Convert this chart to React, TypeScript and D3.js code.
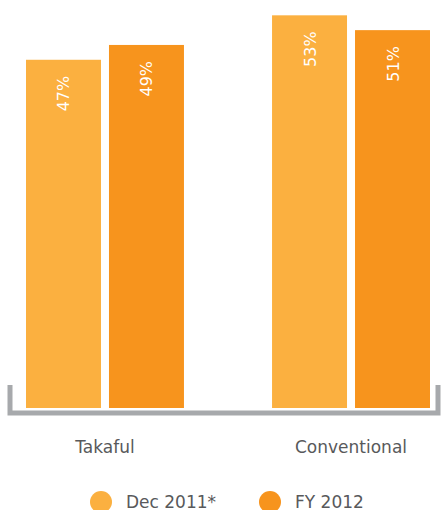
import React from "react";
import * as d3 from "d3";

const categories = ["Takaful", "Conventional"];
const seriesNames = ["Dec 2011*", "FY 2012"];
const dec2011 = [47, 53];
const fy2012 = [49, 51];
const seriesColors = ["#fbb040", "#f7941d"];

const W = 445;
const H = 510;
const FONT = "'DejaVu Sans', sans-serif";

export default function App() {
  const values = [dec2011, fy2012];
  const x0 = d3.scaleBand<string>().domain(categories).range([26, 430]).paddingInner(0.358).paddingOuter(0);
  const x1 = d3.scaleBand<string>().domain(seriesNames).range([0, x0.bandwidth()]).paddingInner(0.0964).paddingOuter(0);
  const y = d3.scaleLinear().domain([0, 55]).range([408, 0.5]);

  const bracketPath = d3.path();
  bracketPath.moveTo(10, 385);
  bracketPath.lineTo(10, 413);
  bracketPath.lineTo(438, 413);
  bracketPath.lineTo(438, 385);

  return (
    <svg width={W} height={H} style={{ position: "absolute", left: 0, top: 0 }} fontFamily={FONT}>
      <rect width={W} height={H} fill="#ffffff" />
      <path d={bracketPath.toString()} fill="none" stroke="#a7a9ac" strokeWidth={5} />
      {categories.map((cat, ci) => (
        <g key={cat} transform={`translate(${x0(cat)},0)`}>
          {seriesNames.map((s, si) => {
            const v = values[si][ci];
            const bx = x1(s)!;
            const bw = x1.bandwidth();
            const top = y(v);
            return (
              <g key={s}>
                <rect x={bx} y={top} width={bw} height={y(0) - top} fill={seriesColors[si]} />
                <text
                  transform={`translate(${bx + bw / 2 + 6},${top + 16}) rotate(-90)`}
                  textAnchor="end"
                  fill="#ffffff"
                  fontSize={16}
                >
                  {v}%
                </text>
              </g>
            );
          })}
          <text x={x0.bandwidth() / 2} y={453} textAnchor="middle" fill="#58595b" fontSize={17}>
            {cat}
          </text>
        </g>
      ))}
      {seriesNames.map((s, si) => {
        const cx = [101, 270][si];
        return (
          <g key={s}>
            <circle cx={cx} cy={502} r={11} fill={seriesColors[si]} />
            <text x={cx + 25} y={508} fill="#58595b" fontSize={17}>
              {s}
            </text>
          </g>
        );
      })}
    </svg>
  );
}
